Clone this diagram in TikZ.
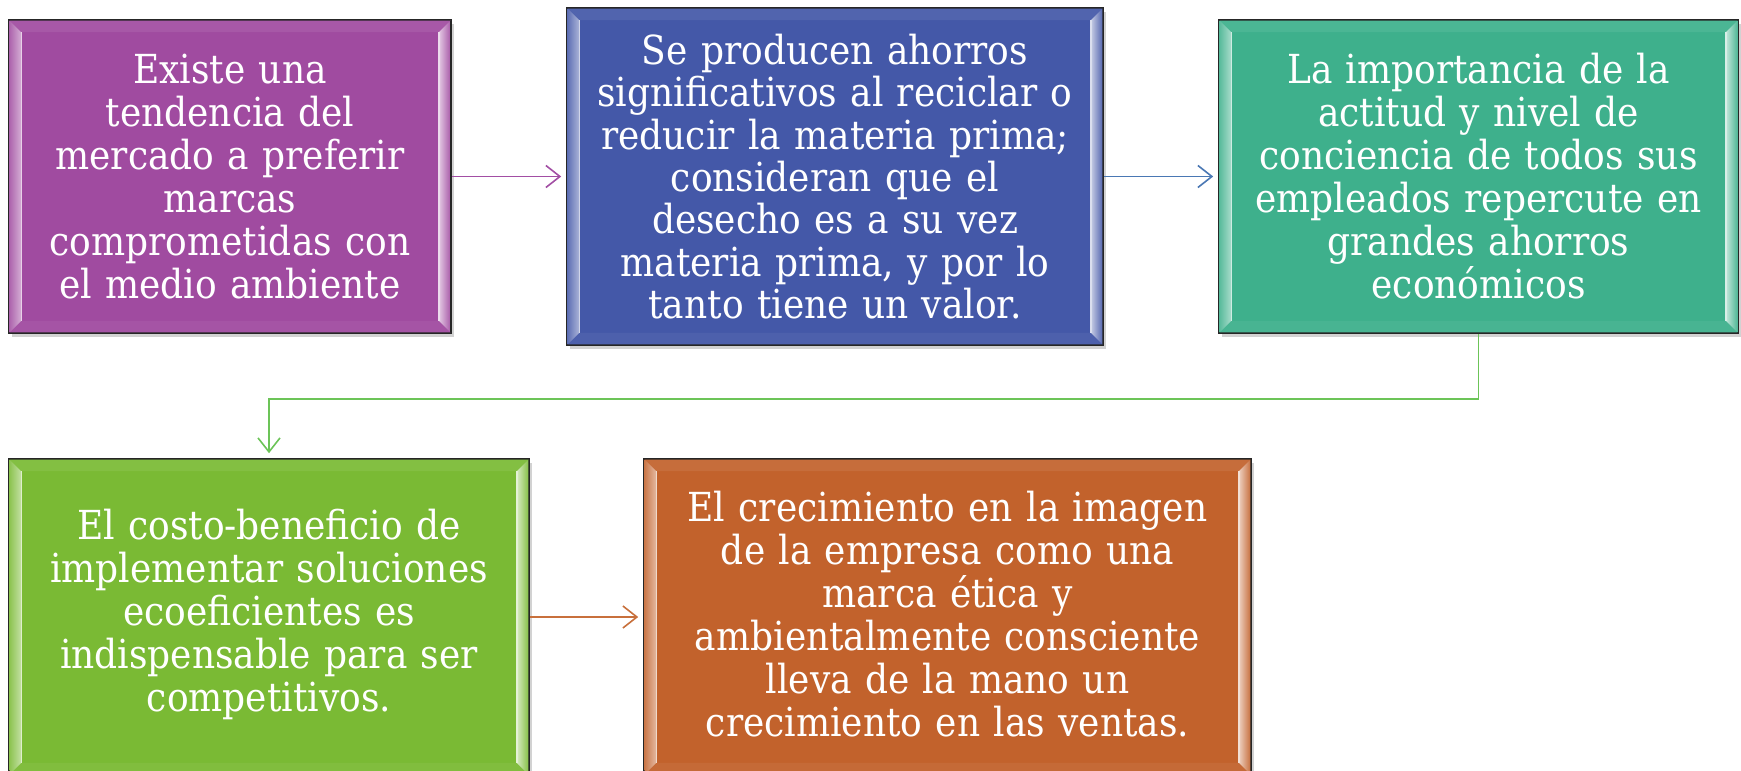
\documentclass[tikz,border=0pt]{standalone}
\usepackage{fontspec}
\setmainfont{DejaVu Serif}[FakeStretch=0.9]
\usetikzlibrary{arrows.meta,shadows,calc}
\definecolor{cpurple}{HTML}{A04BA0}
\definecolor{cblue}{HTML}{4458A8}
\definecolor{cteal}{HTML}{3EB08C}
\definecolor{clime}{HTML}{7ABA34}
\definecolor{corange}{HTML}{C2622C}
\definecolor{apurple}{HTML}{A24EA4}
\definecolor{ablue}{HTML}{4A78B4}
\definecolor{agreen}{HTML}{6CC458}
\definecolor{aorange}{HTML}{C8703C}
\newcommand\mybevel[2]{%
  \coordinate (o1) at ($(#1.north west)+(1.5,1.5)$);
  \coordinate (o2) at ($(#1.north east)+(-1.5,1.5)$);
  \coordinate (o3) at ($(#1.south east)+(-1.5,-1.5)$);
  \coordinate (o4) at ($(#1.south west)+(1.5,-1.5)$);
  \coordinate (i1) at ($(#1.north west)+(13,13)$);
  \coordinate (i2) at ($(#1.north east)+(-13,13)$);
  \coordinate (i3) at ($(#1.south east)+(-13,-13)$);
  \coordinate (i4) at ($(#1.south west)+(13,-13)$);
  \fill[white!7!#2] (o1) -- (o2) -- (i2) -- (i1) -- cycle;
  \fill[white!5!#2] (o4) -- (o3) -- (i3) -- (i4) -- cycle;
  \shade[left color=white!15!#2, right color=white!55!#2] (o1) -- (i1) -- (i4) -- (o4) -- cycle;
  \shade[left color=white!70!#2, right color=white!10!#2] (o2) -- (i2) -- (i3) -- (o3) -- cycle;
  \draw[white!75!#2, line width=1.2pt] (i1) -- (i4);
  \draw[white!80!#2, line width=1.5pt] (i2) -- (i3);
}
\tikzset{
  boxbase/.style={draw=black!85, line width=1.6pt, inner sep=0pt, align=center,
    text=white, font=\fontsize{40}{43}\selectfont,
    drop shadow={opacity=0.35, shadow xshift=3pt, shadow yshift=-4pt}},
  conn/.style={line width=1.6pt, -{Straight Barb[length=14pt,width=22pt,line width=1.6pt]}, shorten >=5pt},
}
\begin{document}
\begin{tikzpicture}[x=1pt,y=-1pt]
\useasboundingbox[fill=white] (0,0) rectangle (1741,771);
\node[boxbase, fill=cpurple, minimum width=442pt, minimum height=313pt, text width=430pt] (b1) at (230,176.5) {};
\mybevel{b1}{cpurple}
\node[align=center, text=white, font=\fontsize{40}{43}\selectfont, text width=430pt] (t1) at (b1.center)
 {Existe una\\tendencia del\\mercado a preferir\\marcas\\comprometidas con\\el medio ambiente};
\node[boxbase, fill=cblue, minimum width=536pt, minimum height=337pt, text width=520pt] (b2) at (835,176.5) {};
\mybevel{b2}{cblue}
\node[align=center, text=white, font=\fontsize{40}{42.3}\selectfont, text width=520pt] (t2) at (b2.center)
 {Se producen ahorros\\significativos al reciclar o\\reducir la materia prima;\\consideran que el\\desecho es a su vez\\materia prima, y por lo\\tanto tiene un valor.};
\node[boxbase, fill=cteal, minimum width=519pt, minimum height=313pt, text width=505pt] (b3) at (1478.5,176.5) {};
\mybevel{b3}{cteal}
\node[align=center, text=white, font=\fontsize{40}{43}\selectfont, text width=505pt] (t3) at (b3.center)
 {La importancia de la\\actitud y nivel de\\conciencia de todos sus\\empleados repercute en\\grandes ahorros\\económicos};
\node[boxbase, fill=clime, minimum width=520pt, minimum height=316pt, text width=505pt] (b4) at (269,617) {};
\mybevel{b4}{clime}
\node[align=center, text=white, font=\fontsize{40}{43}\selectfont, text width=505pt] (t4) at ($(b4.center)+(0,-3)$)
 {El costo-beneficio de\\implementar soluciones\\ecoeficientes es\\indispensable para ser\\competitivos.};
\node[boxbase, fill=corange, minimum width=607pt, minimum height=316pt, text width=590pt] (b5) at (947.5,617) {};
\mybevel{b5}{corange}
\node[align=center, text=white, font=\fontsize{40}{43}\selectfont, text width=590pt] (t5) at ($(b5.center)+(0,-3)$)
 {El crecimiento en la imagen\\de la empresa como una\\marca ética y\\ambientalmente consciente\\lleva de la mano un\\crecimiento en las ventas.};
\draw[conn, apurple] (b1.east) -- (b2.west);
\draw[conn, ablue] (b2.east) -- (b3.west);
\draw[conn, agreen] (b3.south) -- ++(0,65) -| (b4.north);
\draw[conn, aorange] (b4.east) -- (b5.west);
\end{tikzpicture}
\end{document}
